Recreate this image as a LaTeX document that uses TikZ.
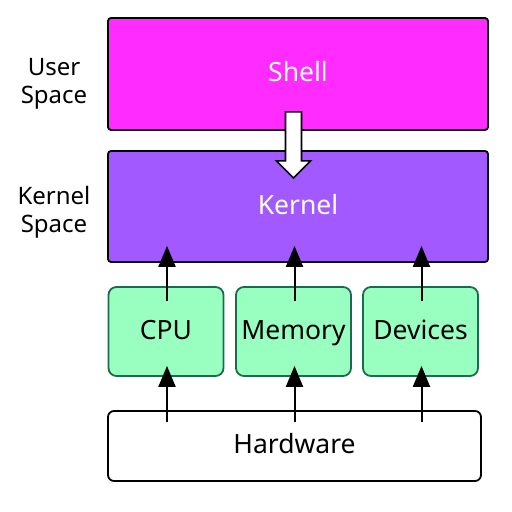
\documentclass[tikz,border=0pt]{standalone}
\usepackage{fontspec}
\setmainfont{Noto Sans}
\usetikzlibrary{calc,arrows.meta}
\definecolor{shellfill}{HTML}{FF2BFF}
\definecolor{kernelfill}{HTML}{A259FF}
\definecolor{hwfill}{HTML}{99FFC1}
\definecolor{hwedge}{HTML}{1C6B50}
\begin{document}
\begin{tikzpicture}[x=1pt,y=1pt,
  bigtext/.style={font=\fontsize{26.5}{30}\selectfont,text height=21pt,text depth=5pt},
  layer/.style={draw=black,line width=1.8pt,rounded corners=3pt,minimum width=380pt,inner sep=0pt,bigtext,text=white},
  unit/.style={draw=hwedge,fill=hwfill,line width=1.8pt,rounded corners=8pt,minimum width=115pt,minimum height=89pt,inner sep=0pt,bigtext},
  sidelabel/.style={align=center,font=\fontsize{24}{28}\selectfont},
  link/.style={line width=2pt,-{Triangle[length=21pt 0,width=17pt 0]}}]
\useasboundingbox[fill=white] (0,0) rectangle (512,512);
% user and kernel layers
\node[layer,fill=shellfill,minimum height=112pt] (shell) at (298,438) {Shell};
\node[layer,fill=kernelfill,minimum height=111pt] (kernel) at (298,305.5) {Kernel};
% resources
\node[unit] (cpu) at (166,180.5) {CPU};
\node[unit] (mem) at (293.5,180.5) {Memory};
\node[unit] (dev) at (420.5,180.5) {Devices};
% hardware
\node[draw=black,fill=white,line width=1.8pt,rounded corners=6pt,minimum width=373pt,minimum height=70pt,inner sep=0pt,bigtext] (hw) at (294.5,66) {Hardware};
% side labels
\node[sidelabel] (us) at (54,428) {User\\Space};
\node[sidelabel] (ks) at (54,300) {Kernel\\Space};
% hollow arrow from shell into kernel
\coordinate (ha) at ($(shell.south)+(-4.5,19)$);
\draw[line width=1.6pt,fill=white,line join=miter]
  (ha) ++(-8,0) -- ++(0,-49) -- ++(-9,0) -- ++(17,-17) -- ++(17,17) -- ++(-9,0) -- ++(0,49) -- cycle;
% upward links
\foreach \n in {cpu,mem,dev}{
  \draw[link] ($(\n.north)+(1,-15)$) -- ($(\n.north |- kernel.south)+(1,17)$);
  \draw[link] ($(\n.south |- hw.north)+(1,-12)$) -- ($(\n.south)+(1,11)$);
}
\end{tikzpicture}
\end{document}
